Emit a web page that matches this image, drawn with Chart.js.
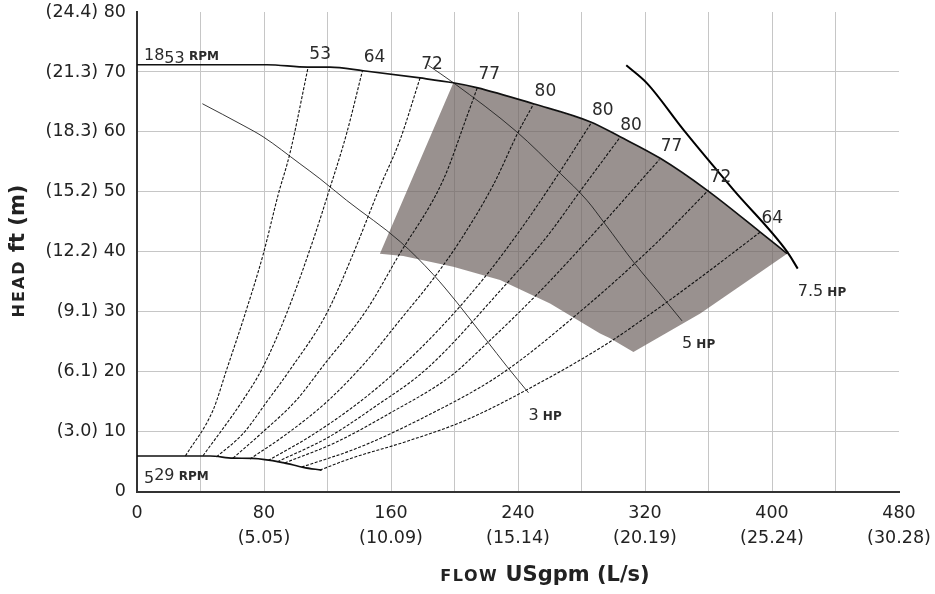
<!DOCTYPE html>
<html lang="en">
<head>
<meta charset="UTF-8">
<title>Pump performance</title>
<script src="https://cdn.jsdelivr.net/npm/chart.js"></script>
<style>
  html, body { margin: 0; padding: 0; background: #fff; }
</style>
</head>
<body>
<canvas id="pump" width="935" height="594"></canvas>
<script>
// axis ticks
const flowTicks = [0, 80, 160, 240, 320, 400, 480];
const flowLps = ['', '(5.05)', '(10.09)', '(15.14)', '(20.19)', '(25.24)', '(30.28)'];
const headTicks = [0, 10, 20, 30, 40, 50, 60, 70, 80];
const headMetres = ['', '(3.0)', '(6.1)', '(9.1)', '(12.2)', '(15.2)', '(18.3)', '(21.3)', '(24.4)'];

// speed curves [USgpm, ft]
const rpm1853 = [[0, 71.2], [81.8, 71.2], [107.6, 70.8], [121.5, 70.8], [142.5, 70.2], [178.3, 69.0], [199.2, 68.2], [214, 67.4], [249.7, 64.7], [285.4, 61.7], [304.3, 59.2], [329.6, 55.6], [359, 50.3], [392.6, 43.3], [409.5, 39.7]];
const rpm529 = [[0, 5.95], [46, 5.95], [60.5, 5.6], [73, 5.55], [92, 4.85], [104.7, 4.07], [116.3, 3.6]];

// power lines
const hp3 = [[41.2, 64.7], [66.8, 61.1], [79.4, 59.2], [102.6, 54.7], [115.2, 52.2], [132, 48.6], [165.8, 41.7], [186.7, 36.2], [201.4, 31.6], [220.3, 25.2], [233, 20.9], [246.6, 16.5]];
const hp5 = [[183.5, 71.1], [199.3, 68.2], [239.3, 60], [266.6, 53.1], [283.4, 48.6], [295, 44.6], [312.8, 38.3], [332.8, 31.9], [343.3, 28.5]];
const hp75 = [[308.2, 71.1], [321.3, 68.1], [344.4, 60.3], [375.9, 50.3], [409.6, 40], [416.2, 37.2]];

// iso-efficiency lines (%)
const effLabels = ['53', '64', '72', '77', '80', '80', '80', '77', '72', '64'];
const eff53 = [[30.5, 5.95], [47.9, 13.6], [56.4, 20.3], [67.9, 29.5], [79.4, 39.5], [88.9, 49.5], [96.3, 56.4], [107.8, 70.8]];
const eff64 = [[41.6, 6.0], [66.8, 15.3], [79.4, 20.8], [94.2, 29.7], [111, 42], [120.4, 49.7], [132, 59.7], [142.1, 70.3]];
const eff72 = [[50.1, 5.8], [66.8, 9.7], [82.6, 15.3], [96.3, 20.3], [119.4, 29.7], [136.2, 39.7], [153, 50.8], [165.6, 58.6], [178.3, 69.0]];
const eff77 = [[60.5, 5.6], [78.6, 9.8], [100.5, 15.3], [117.3, 21], [144.6, 30.3], [164.4, 39.2], [192.9, 52], [207.7, 62.5], [214.4, 67.4]];
const eff80a = [[71.1, 5.45], [93.1, 9.4], [119.6, 15.0], [143.6, 21.5], [165.6, 28.6], [186.6, 35.5], [203.4, 41.8], [224.5, 51.2], [240.2, 60], [249.7, 64.6]];
const eff80b = [[82.6, 5.2], [108.9, 9.2], [140.4, 15.0], [165, 20.5], [190, 27], [218.2, 35.5], [241.3, 43.6], [263, 52], [285.9, 61.4]];
const eff80c = [[88.5, 5.0], [120, 9.0], [150, 14.2], [182.5, 20.5], [228.7, 33.5], [258.1, 42.5], [279.1, 50.1], [303.7, 58.9]];
const eff77b = [[93.1, 4.8], [125, 8.2], [160, 13.2], [197.2, 19.2], [218.2, 24.2], [256, 34], [291.9, 44.3], [329.1, 55.4]];
const eff72b = [[103.7, 4.1], [140, 7.4], [180, 12.3], [228.7, 19.5], [281.2, 30.5], [325.3, 41], [360, 50.3]];
const eff64b = [[115.2, 3.6], [134.1, 5.5], [170, 8.4], [207.7, 12], [256, 18.5], [298, 25], [325.3, 30], [354.8, 35.7], [392.6, 43.3]];
const effLines = [eff53, eff64, eff72, eff77, eff80a, eff80b, eff80c, eff77b, eff72b, eff64b];

// shaded preferred operating region
const bestZone = [[199.3, 68.2], [214, 67.4], [249.7, 64.7], [285.4, 61.7], [304.3, 59.2], [329.6, 55.6], [359, 50.3], [392.6, 43.3], [409.5, 39.7], [354.8, 29.7], [312.7, 23.3], [298, 25.6], [291.7, 26.4], [260.2, 31.4], [228.7, 35.3], [199.2, 37.5], [167.7, 39.3], [153, 39.7], [199.3, 68.2]];

const FONT = '"DejaVu Sans"';
const TEXT = '#2b2b2b';
const xy = pts => pts.map(p => ({ x: p[0], y: p[1] }));

const datasets = [];
effLines.forEach(pts => datasets.push({
  data: xy(pts), borderColor: '#111', borderWidth: 1.1, borderDash: [3, 1.6],
  pointRadius: 0, cubicInterpolationMode: 'monotone', fill: false
}));
datasets.push({ data: xy(rpm1853), borderColor: '#111', borderWidth: 1.7, pointRadius: 0, cubicInterpolationMode: 'monotone', fill: false });
datasets.push({ data: xy(rpm529), borderColor: '#111', borderWidth: 1.7, pointRadius: 0, cubicInterpolationMode: 'monotone', fill: false });
datasets.push({ data: xy(hp3), borderColor: '#222', borderWidth: 0.9, pointRadius: 0, cubicInterpolationMode: 'monotone', fill: false });
datasets.push({ data: xy(hp5), borderColor: '#222', borderWidth: 0.9, pointRadius: 0, cubicInterpolationMode: 'monotone', fill: false });
datasets.push({ data: xy(hp75), borderColor: '#000', borderWidth: 2, pointRadius: 0, cubicInterpolationMode: 'monotone', fill: false });
datasets.push({
  data: xy(bestZone), borderWidth: 0, borderColor: 'rgba(0,0,0,0)', pointRadius: 0, tension: 0,
  backgroundColor: 'rgba(110,98,96,0.7)', fill: 'shape', order: 10
});

function drawParts(ctx, parts, x, y, align) {
  let total = 0;
  parts.forEach(p => { ctx.font = p.f; ctx.letterSpacing = p.ls || '0px'; p.w = ctx.measureText(p.t).width; total += p.w; });
  let cx = align === 'center' ? x - total / 2 : x;
  parts.forEach(p => {
    ctx.font = p.f; ctx.letterSpacing = p.ls || '0px';
    ctx.fillText(p.t, cx, y + (p.dy || 0));
    cx += p.w;
  });
  ctx.letterSpacing = '0px';
}

const annotate = {
  id: 'annotate',
  afterDatasetsDraw(chart) {
    const { ctx, scales: { x, y } } = chart;
    const px = p => [x.getPixelForValue(p[0]), y.getPixelForValue(p[1])];
    ctx.save();
    ctx.fillStyle = TEXT;
    ctx.textBaseline = 'middle';
    ctx.textAlign = 'center';
    ctx.font = '17px ' + FONT;
    effLines.forEach((pts, i) => {
      const [a, b] = px(pts[pts.length - 1]);
      ctx.fillText(effLabels[i], a + 12, b - 13);
    });

    ctx.textAlign = 'left';
    ctx.textBaseline = 'alphabetic';
    const small = '600 12px ' + FONT;
    const num = '16px ' + FONT;
    let [a, b] = px(rpm1853[0]);
    drawParts(ctx, [{ t: '18', f: num }, { t: '53', f: num, dy: 3 }, { t: ' RPM', f: small }], a + 7, b - 5);
    [a, b] = px(rpm529[0]);
    drawParts(ctx, [{ t: '5', f: num, dy: 3 }, { t: '29', f: num }, { t: ' RPM', f: small }], a + 7, b + 24);
    [[hp3, '3'], [hp5, '5'], [hp75, '7.5']].forEach(([pts, t]) => {
      const [c, d] = px(pts[pts.length - 1]);
      drawParts(ctx, [{ t: t, f: num }, { t: ' HP', f: small }], c, d + 27);
    });

    // axis titles
    ctx.fillStyle = '#222';
    drawParts(ctx, [{ t: 'FLOW', f: 'bold 16px ' + FONT, ls: '1.5px' }, { t: ' USgpm (L/s)', f: 'bold 21px ' + FONT }], 545, 581, 'center');
    ctx.translate(24, 251);
    ctx.rotate(-Math.PI / 2);
    drawParts(ctx, [{ t: 'HEAD', f: 'bold 16px ' + FONT, ls: '2px' }, { t: ' ft (m)', f: 'bold 21px ' + FONT }], 0, 0, 'center');
    ctx.restore();
  }
};

new Chart(document.getElementById('pump'), {
  type: 'line',
  data: { datasets },
  options: {
    responsive: false,
    animation: false,
    layout: { padding: { top: 12, right: 36, bottom: 0, left: 0 } },
    plugins: { legend: { display: false }, tooltip: { enabled: false } },
    scales: {
      x: {
        type: 'linear', min: 0, max: 480,
        afterBuildTicks: s => { s.ticks = [0, 40, 80, 120, 160, 200, 240, 280, 320, 360, 400, 440, 480].map(v => ({ value: v })); },
        afterFit: s => { s.height = 102.3; s.paddingLeft = 0; s.paddingRight = 0; },
        grid: { color: c => (c.tick && c.tick.value === 480 ? 'rgba(0,0,0,0)' : '#c6c6c6'), lineWidth: 1, drawTicks: false },
        border: { color: '#333', width: 2 },
        ticks: {
          autoSkip: false, maxRotation: 0, padding: 9, color: '#222',
          font: { family: 'DejaVu Sans', size: 17.5, lineHeight: 1.42 },
          callback: v => {
            const i = flowTicks.indexOf(v);
            if (i < 0) return '';
            return i === 0 ? '0' : [String(v), flowLps[i]];
          }
        }
      },
      y: {
        type: 'linear', min: 0, max: 80,
        afterBuildTicks: s => { s.ticks = headTicks.map(v => ({ value: v })); },
        afterFit: s => { s.width = 137; s.paddingTop = 0; s.paddingBottom = 0; },
        grid: { color: c => (c.tick && c.tick.value === 80 ? 'rgba(0,0,0,0)' : '#c6c6c6'), lineWidth: 1, drawTicks: false },
        border: { color: '#333', width: 2 },
        ticks: {
          padding: 11, color: '#222',
          font: { family: 'DejaVu Sans', size: 17.5 },
          callback: v => {
            const i = headTicks.indexOf(v);
            return i > 0 ? headMetres[i] + ' ' + v : String(v);
          }
        }
      }
    }
  },
  plugins: [annotate]
});
</script>
</body>
</html>
